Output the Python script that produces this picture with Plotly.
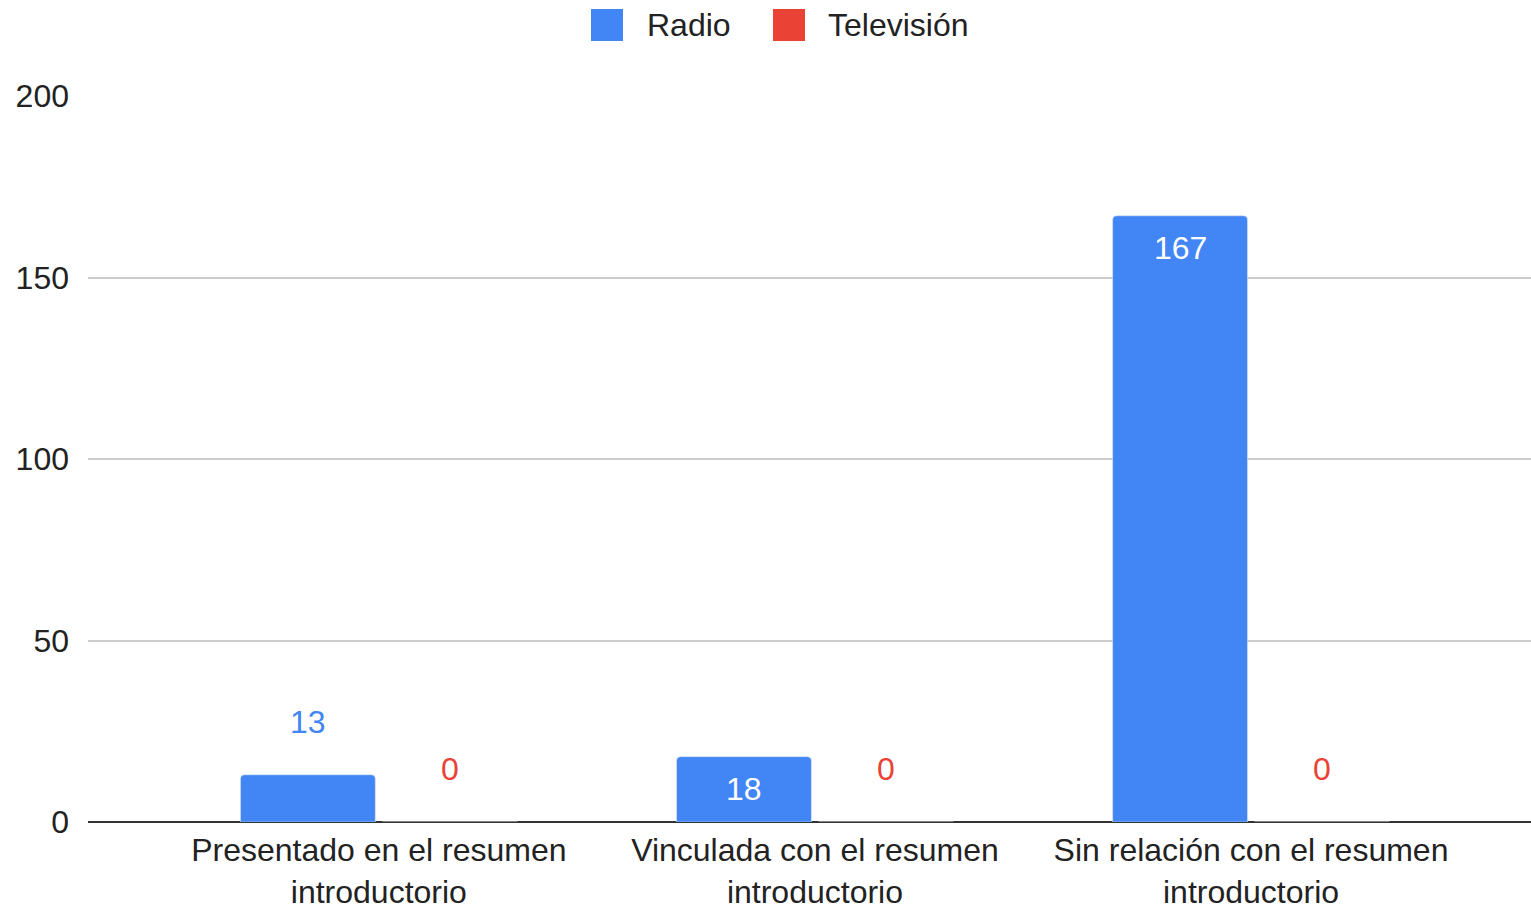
import plotly.graph_objects as go

categories = ["Presentado en el resumen introductorio",
              "Vinculada con el resumen introductorio",
              "Sin relación con el resumen introductorio"]
tick_labels = ["Presentado en el resumen<br>introductorio",
               "Vinculada con el resumen<br>introductorio",
               "Sin relación con el resumen<br>introductorio"]
series_names = ["Radio", "Televisión"]
radio = [13, 18, 167]
television = [0, 0, 0]
radio_label_inside = [False, True, True]
television_label_inside = [False, False, False]
colors = ["#4285F4", "#EA4335"]

FONT = "'Liberation Sans', Arial, sans-serif"
FS = 32
TXT = "#222222"
BARGAP = 0.349
GROUPGAP = 0.05

x_idx = list(range(len(categories)))

fig = go.Figure()
for name, vals, col in zip(series_names, [radio, television], colors):
    fig.add_trace(go.Bar(
        x=x_idx, y=vals, name=name, marker_color=col,
        showlegend=False, cliponaxis=False, hoverinfo="skip",
    ))

# data labels, placed over the grouped bars via the axis scales
annotations = []
n_series = len(series_names)
slot = (1 - BARGAP) / n_series
for k, (vals, inside, col) in enumerate(zip([radio, television],
                                            [radio_label_inside, television_label_inside],
                                            colors)):
    off = -(1 - BARGAP) / 2 + slot * (k + 0.5)
    for i, (v, ins) in enumerate(zip(vals, inside)):
        annotations.append(dict(
            x=i + off, y=v, xref="x", yref="y", text=str(v), showarrow=False,
            xanchor="center", yanchor="middle", yshift=-32 if ins else 53,
            font=dict(size=FS, family=FONT, color="white" if ins else col),
        ))

# page geometry
W, H = 1531, 911
L, R, T, B = 88, 0, 96, 89
pw, ph = W - L - R, H - T - B
def px(x): return (x - L) / pw
def py(y): return (H - B - y) / ph

shapes = []
legend_items = [(591, 645), (773, 826)]
for (sx, tx), name, col in zip(legend_items, series_names, colors):
    shapes.append(dict(type="rect", xref="paper", yref="paper",
                       x0=px(sx), x1=px(sx + 32), y0=py(41), y1=py(9),
                       fillcolor=col, line=dict(width=0)))
    annotations.append(dict(xref="paper", yref="paper", x=px(tx), y=py(25),
                            text=name, showarrow=False, xanchor="left", yanchor="middle",
                            font=dict(size=FS, color=TXT, family=FONT)))

fig.update_layout(
    width=W, height=H,
    margin=dict(l=L, r=R, t=T, b=B, autoexpand=False),
    paper_bgcolor="white", plot_bgcolor="white",
    font=dict(family=FONT, size=FS, color=TXT),
    barmode="group", bargap=BARGAP, bargroupgap=GROUPGAP,
    barcornerradius=4,
    shapes=shapes, annotations=annotations,
    showlegend=False,
)
fig.update_xaxes(
    type="linear", range=[-0.667, 2.642], automargin=False,
    tickvals=x_idx, ticktext=tick_labels,
    showgrid=False, showline=False, zeroline=False, ticks="",
    ticklabelstandoff=6,
    tickfont=dict(size=FS, color=TXT, family=FONT),
)
fig.update_yaxes(
    range=[0, 200], dtick=50, tick0=0, automargin=False,
    showgrid=True, gridcolor="#cccccc", gridwidth=2,
    zeroline=True, zerolinecolor="#333333", zerolinewidth=2,
    showline=False, ticks="", ticklabelstandoff=18,
    tickfont=dict(size=FS, color=TXT, family=FONT),
)

fig.write_html("out.html", config={"displayModeBar": False, "staticPlot": True},
               post_script="document.body.style.margin='0';document.body.style.overflow='hidden';")
